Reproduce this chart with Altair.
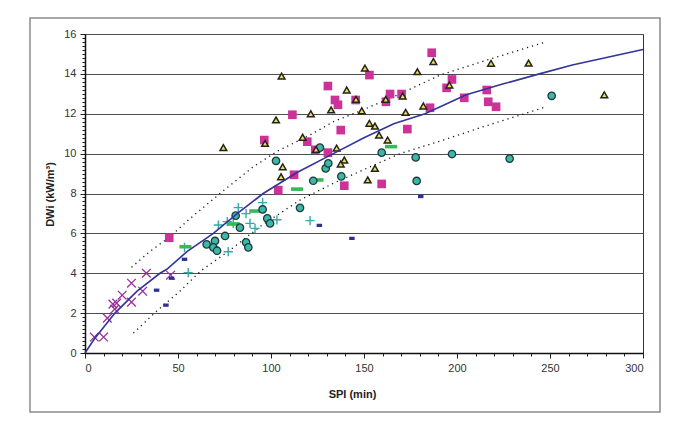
import altair as alt
import pandas as pd

# ---- data ----
x_purple = [5, 10, 12, 15, 17, 16, 20, 25, 25, 31, 33, 46]
y_purple = [0.8, 0.8, 1.75, 2.45, 2.5, 2.2, 2.9, 3.5, 2.55, 3.1, 4.0, 3.9]

x_blue = [38.5, 43.5, 46.5, 53.5, 126, 143.5, 180.5]
y_blue = [3.15, 2.4, 3.75, 4.7, 6.4, 5.75, 7.85]

x_green = [54, 80, 91.5, 114, 125, 164.5]
y_green = [5.33, 6.47, 7.12, 8.22, 8.68, 10.35]

x_tcross = [55.5, 77, 71.7, 76.5, 82.4, 86.6, 88.7, 91.4, 95.5, 103.2, 121, 53.5, 79.7]
y_tcross = [4.03, 5.08, 6.42, 6.59, 7.29, 6.99, 6.5, 6.25, 7.54, 6.68, 6.64, 5.3, 6.5]

x_circle = [65.4, 69.9, 69, 71, 75.3, 81, 83.3, 86.6, 87.8, 95.5, 98, 99.5, 115.6,
            102.7, 126.3, 129.4, 130.8, 122.7, 137.8, 159.5, 177.8, 197.3, 228.3,
            250.9, 178.3]
y_circle = [5.45, 5.62, 5.3, 5.13, 5.87, 6.89, 6.29, 5.55, 5.3, 7.2, 6.75, 6.5, 7.28,
            9.64, 10.3, 9.26, 9.51, 8.64, 8.86, 10.05, 9.81, 9.98, 9.75,
            12.9, 8.63]

x_square = [45.3, 96.4, 111.5, 112.4, 103.9, 130.6, 134.4, 136, 119.5, 123.8, 130.6,
            137.5, 139.4, 145.5, 152.9, 159.5, 164, 161.8, 170.2, 173.3, 185.5,
            186.4, 194.4, 197.3, 203.9, 216, 216.8, 221]
y_square = [5.78, 10.68, 11.95, 8.94, 8.17, 13.39, 12.69, 12.45, 10.6, 10.19, 10.05,
            11.18, 8.39, 12.69, 13.94, 8.48, 12.99, 12.6, 12.99, 11.23, 12.3,
            15.06, 13.3, 13.72, 12.8, 13.19, 12.6, 12.35]

x_tri = [74.4, 105.7, 102.7, 96.8, 121.4, 132.3, 117, 106.3, 105.4, 124.2, 135.3,
         140.7, 145.7, 148.8, 150.5, 152.9, 155.9, 158.1, 162.7, 161.7, 170.8,
         172.4, 178.7, 181.9, 187.3, 195.9, 218.3, 238.5, 279.2, 139.4, 137.5,
         155.9, 152]
y_tri = [10.3, 13.89, 11.69, 10.51, 12.0, 12.19, 10.82, 9.34, 8.84, 10.21, 10.28,
         13.19, 12.72, 12.15, 14.29, 11.52, 11.38, 10.93, 10.68, 12.72, 12.89,
         12.07, 14.11, 12.39, 14.62, 13.44, 14.53, 14.54, 12.95, 9.68, 9.48,
         9.26, 8.68]

x_fit = [0, 5, 16.1, 28, 40.3, 44, 55, 69, 82, 95.8, 114, 133.5, 150, 166, 182.8,
         205, 225, 244.3, 262, 300]
y_fit = [0, 0.7, 2.0, 3.1, 4.0, 4.2, 5.1, 6.0, 7.0, 8.0, 9.05, 10.0, 10.8, 11.5,
         12.0, 12.95, 13.5, 14.0, 14.45, 15.22]

x_upper = [25, 35, 45.7, 55.5, 72.6, 90.5, 103, 122.7, 133.5, 149.6, 169.4, 190.9, 216, 248]
y_upper = [4.3, 5.1, 5.83, 6.67, 8.0, 9.34, 10.1, 11.02, 11.6, 12.2, 13.0, 13.94, 14.69, 15.61]

x_lower = [26, 38.5, 51, 62, 76.7, 95, 115.6, 133.5, 151.4, 169.4, 192.6, 214.2, 248]
y_lower = [1.0, 2.1, 3.1, 4.1, 5.07, 6.4, 7.67, 8.51, 9.26, 10.0, 10.68, 11.35, 12.35]

x_ticks = list(range(0, 301, 10))
y_ticks = [round(i * 0.2, 1) for i in range(0, 81)]

FONT = "Liberation Sans"

x_axis = alt.Axis(
    values=x_ticks,
    labelExpr="datum.value % 50 === 0 ? format(datum.value, 'd') : ''",
    grid=False,
    tickSize={"condition": {"test": "datum.value % 50 === 0", "value": 5}, "value": 3},
    tickColor="#222", domainColor="#111", domainWidth=1.5,
    labelFont=FONT, labelFontSize=11, labelColor="#333", labelPadding=4,
    title="SPI (min)", titleFont=FONT, titleFontSize=11, titleFontWeight="bold",
    titleColor="#222", titleX=267, titleY=41, titleBaseline="middle",
)
y_axis = alt.Axis(
    values=y_ticks,
    labelExpr="datum.value % 2 === 0 ? format(datum.value, 'd') : ''",
    grid=True, gridColor="#4d4d4d", gridWidth=1.1,
    gridOpacity={"condition": {"test": "datum.value % 2 === 0", "value": 1}, "value": 0},
    tickSize={"condition": {"test": "datum.value % 2 === 0", "value": 5}, "value": 3},
    tickColor="#222", domainColor="#111", domainWidth=1.5,
    labelFont=FONT, labelFontSize=11, labelColor="#333", labelPadding=4,
    title="DWi (kW/m³)", titleFont=FONT, titleFontSize=11, titleFontWeight="bold",
    titleColor="#222", titleX=-35, titleY=160, titleAngle=-90,
    titleBaseline="middle", titleAlign="center",
)
xs = alt.Scale(domain=[0, 300], nice=False, zero=False)
ys = alt.Scale(domain=[0, 16], nice=False, zero=False)


def enc(ch):
    return ch.encode(
        x=alt.X("x:Q", scale=xs, axis=x_axis),
        y=alt.Y("y:Q", scale=ys, axis=y_axis),
    )


def df(xv, yv):
    return pd.DataFrame({"x": xv, "y": yv})


frame = alt.Chart(alt.Data(values=[{"a": 1}])).mark_rect(
    filled=False, stroke="#8c8c8c", strokeWidth=1.5, clip=False
).encode(x=alt.value(-55), x2=alt.value(575), y=alt.value(-16), y2=alt.value(378))

upper = enc(alt.Chart(df(x_upper, y_upper)).mark_line(
    color="#111", strokeDash=[1.2, 4], strokeWidth=1.3))
lower = enc(alt.Chart(df(x_lower, y_lower)).mark_line(
    color="#111", strokeDash=[1.2, 4], strokeWidth=1.3))

purple = enc(alt.Chart(df(x_purple, y_purple)).mark_point(
    shape="M-1,-1L1,1M-1,1L1,-1", filled=False, stroke="#993399",
    strokeWidth=1.3, size=75, opacity=1))
blue = enc(alt.Chart(df(x_blue, y_blue)).mark_point(
    shape="M-1,-0.6L1,-0.6L1,0.6L-1,0.6Z", filled=True, color="#2e3192",
    size=30, opacity=1))
squares = enc(alt.Chart(df(x_square, y_square)).mark_point(
    shape="square", filled=True, color="#cc3399", size=75, opacity=1))
tcross = enc(alt.Chart(df(x_tcross, y_tcross)).mark_point(
    shape="M-1,0L1,0M0,-1L0,1", filled=False, stroke="#33aaaa",
    strokeWidth=1.4, size=85, opacity=1))
green = enc(alt.Chart(df(x_green, y_green)).mark_point(
    shape="M-1,-0.3L1,-0.3L1,0.3L-1,0.3Z", filled=True, color="#33bb55",
    size=144, opacity=1))
circles = enc(alt.Chart(df(x_circle, y_circle)).mark_point(
    shape="circle", filled=True, fill="#3cb8a8", stroke="#1f3a3a",
    strokeWidth=1.3, size=55, opacity=1))
tris = enc(alt.Chart(df(x_tri, y_tri)).mark_point(
    shape="triangle-up", filled=True, fill="#f0e04a", stroke="#222",
    strokeWidth=1.5, size=45, opacity=1))

fit = enc(alt.Chart(df(x_fit, y_fit)).mark_line(color="#333399", strokeWidth=1.6))

chart = alt.layer(
    frame, upper, lower, purple, blue, squares, tcross, green, circles, tris, fit
).properties(
    width=558, height=319,
    padding={"left": 85, "top": 34, "right": 36, "bottom": 79},
    autosize=alt.AutoSizeParams(type="none"),
    background="white",
).configure_view(stroke="#333", strokeWidth=1)

chart.save("out.html", embed_options={"renderer": "svg", "actions": False})
